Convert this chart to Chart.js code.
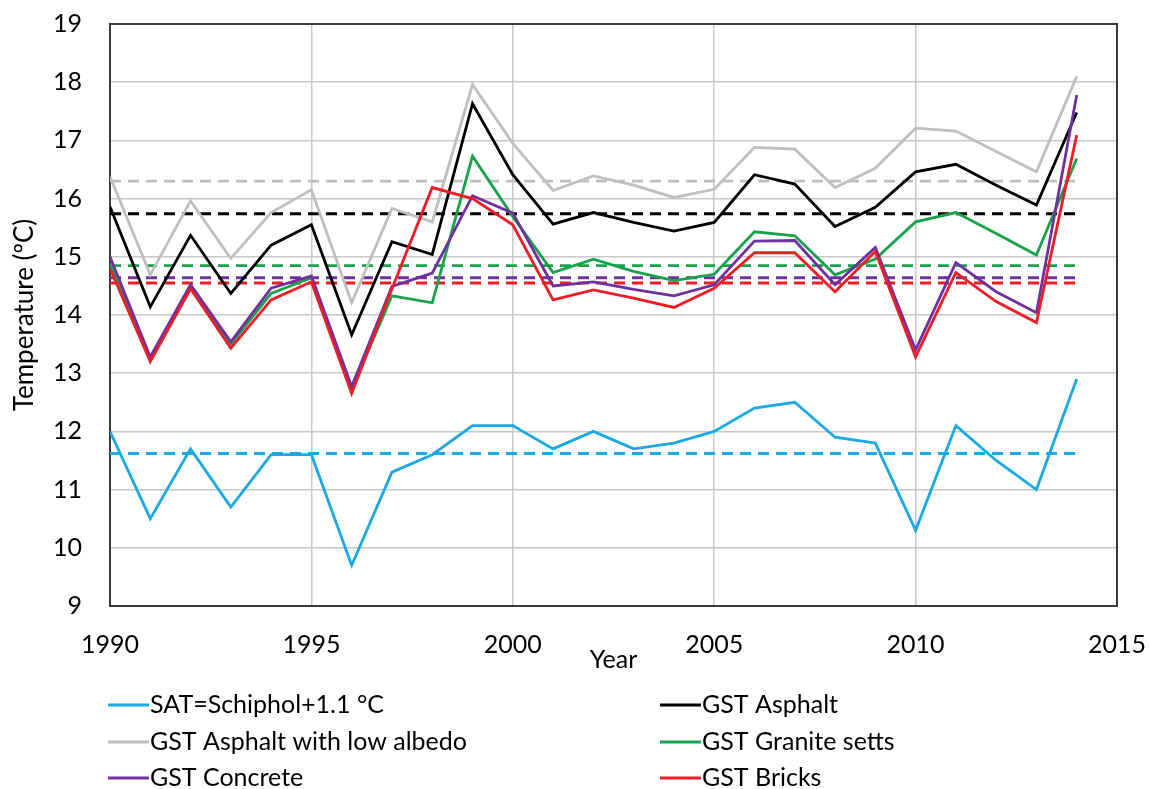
<!DOCTYPE html>
<html>
<head>
<meta charset="utf-8">
<script src="https://cdn.jsdelivr.net/npm/chart.js@4/dist/chart.umd.min.js"></script>
<style>
  html, body { margin: 0; padding: 0; background: #fff; }
  #wrap { width: 1149px; height: 789px; position: relative; }
</style>
</head>
<body>
<div id="wrap"><canvas id="myChart" width="1149" height="789"></canvas></div>
<script>
// data
const years = [1990, 1991, 1992, 1993, 1994, 1995, 1996, 1997, 1998, 1999, 2000, 2001, 2002,
  2003, 2004, 2005, 2006, 2007, 2008, 2009, 2010, 2011, 2012, 2013, 2014]
const sat = [12.0, 10.5, 11.7, 10.7, 11.6, 11.6, 9.7, 11.3, 11.6, 12.1, 12.1, 11.7, 12.0,
  11.7, 11.8, 12.0, 12.4, 12.5, 11.9, 11.8, 10.3, 12.1, 11.5, 11.0, 12.9]
const asphalt = [15.86, 14.14, 15.37, 14.37, 15.20, 15.55, 13.66, 15.26, 15.04, 17.63, 16.41, 15.56, 15.76,
  15.59, 15.44, 15.59, 16.41, 16.25, 15.52, 15.85, 16.46, 16.59, 16.23, 15.89, 17.48]
const lowAlbedo = [16.38, 14.69, 15.96, 14.97, 15.76, 16.15, 14.21, 15.83, 15.60, 17.96, 16.95, 16.14, 16.39,
  16.23, 16.02, 16.16, 16.88, 16.85, 16.19, 16.52, 17.21, 17.16, 16.81, 16.46, 18.10]
const granite = [14.88, 13.25, 14.50, 13.50, 14.37, 14.64, 12.72, 14.33, 14.21, 16.73, 15.69, 14.73, 14.96,
  14.75, 14.59, 14.70, 15.43, 15.36, 14.69, 14.96, 15.60, 15.76, 15.40, 15.03, 16.69]
const concrete = [15.00, 13.28, 14.52, 13.54, 14.46, 14.67, 12.77, 14.49, 14.72, 16.05, 15.75, 14.50, 14.57,
  14.44, 14.33, 14.52, 15.27, 15.28, 14.52, 15.16, 13.40, 14.90, 14.40, 14.04, 17.78]
const bricks = [14.80, 13.20, 14.45, 13.43, 14.26, 14.57, 12.65, 14.45, 16.19, 16.00, 15.55, 14.26, 14.43,
  14.29, 14.13, 14.46, 15.07, 15.07, 14.40, 15.09, 13.28, 14.73, 14.23, 13.87, 17.09]

// averages (dashed lines), same order as the series
const seriesNames = ['SAT=Schiphol+1.1 °C', 'GST Asphalt', 'GST Asphalt with low albedo',
  'GST Granite setts', 'GST Concrete', 'GST Bricks']
const means = [11.62, 15.74, 16.30, 14.85, 14.64, 14.55]
const colors = ['#1ba9e6', '#000000', '#bfbfbf', '#18a24b', '#7030a0', '#ee1c25']
const drawOrder = [5, 3, 4, 2, 1, 0]

const yTicks = [9, 10, 11, 12, 13, 14, 15, 16, 17, 18, 19]
const xTicks = [1990, 1995, 2000, 2005, 2010, 2015]

const FONT = "Lato, 'Liberation Sans', sans-serif"

const toPoints = vals => years.map((yr, i) => ({ x: yr, y: vals[i] }))
const allSeries = [sat, asphalt, lowAlbedo, granite, concrete, bricks]

let datasets = []
allSeries.forEach((vals, i) => {
  datasets.push({
    label: seriesNames[i],
    data: toPoints(vals),
    borderColor: colors[i],
    borderWidth: 2.8,
    pointRadius: 0,
    order: drawOrder[i],
    legend: true
  })
})
allSeries.forEach((vals, i) => {
  datasets.push({
    label: seriesNames[i] + ' mean',
    data: toPoints(years.map(() => means[i])),
    borderColor: colors[i],
    borderWidth: 2.8,
    borderDash: [11, 7],
    pointRadius: 0,
    order: 10 + i,
    legend: false
  })
})

// dark frame round the plot area
const frame = {
  id: 'frame',
  beforeDatasetsDraw(chart) {
    const a = chart.chartArea
    const ctx = chart.ctx
    ctx.save()
    ctx.strokeStyle = '#3a3a3a'
    ctx.lineWidth = 2
    ctx.strokeRect(a.left, a.top, a.right - a.left, a.bottom - a.top)
    ctx.restore()
  }
}

// two-column legend under the plot
const bottomLegend = {
  id: 'bottomLegend',
  afterDraw(chart) {
    const ctx = chart.ctx
    const items = chart.data.datasets.filter(d => d.legend)
    const colX = [108, 660]
    const rowY = [705, 742, 778]
    ctx.save()
    ctx.font = '25px ' + FONT
    ctx.textBaseline = 'middle'
    ctx.fillStyle = '#000'
    items.forEach((d, i) => {
      const x = colX[i % 2]
      const y = rowY[Math.floor(i / 2)]
      ctx.strokeStyle = d.borderColor
      ctx.lineWidth = 3
      ctx.beginPath()
      ctx.moveTo(x, y)
      ctx.lineTo(x + 41, y)
      ctx.stroke()
      ctx.fillText(d.label, x + 42, y)
    })
    ctx.restore()
  }
}

const ctx = document.getElementById('myChart').getContext('2d')
const chart = new Chart(ctx, {
  type: 'line',
  data: { datasets: datasets },
  options: {
    responsive: false,
    animation: false,
    layout: { padding: { left: 0, right: 32, top: 24, bottom: 114 } },
    plugins: { legend: { display: false }, tooltip: { enabled: false } },
    elements: { line: { tension: 0 } },
    scales: {
      x: {
        type: 'linear',
        min: 1990,
        max: 2015,
        afterBuildTicks: s => { s.ticks = xTicks.map(v => ({ value: v })) },
        afterFit: s => { s.height = 69; s.paddingLeft = 0; s.paddingRight = 0 },
        ticks: { callback: v => String(v), color: '#000', padding: 24, maxRotation: 0,
          font: { family: FONT, size: 25 } },
        grid: { color: '#c8c8c8', lineWidth: 1.5, drawTicks: false },
        border: { color: '#3a3a3a', width: 2 },
        title: { display: true, text: 'Year', color: '#000', padding: { top: 0, bottom: 0 },
          font: { family: FONT, size: 25 } }
      },
      y: {
        min: 9,
        max: 19,
        afterBuildTicks: s => { s.ticks = yTicks.map(v => ({ value: v })) },
        afterFit: s => { s.width = 110; s.paddingTop = 0; s.paddingBottom = 0 },
        ticks: { color: '#000', padding: 28, font: { family: FONT, size: 25 } },
        grid: { color: '#c8c8c8', lineWidth: 1.5, drawTicks: false },
        border: { color: '#3a3a3a', width: 2 },
        title: { display: true, text: 'Temperature (ºC)', color: '#000', padding: { top: 9, bottom: 0 },
          font: { family: FONT, size: 26 } }
      }
    }
  },
  plugins: [frame, bottomLegend]
})
</script>
</body>
</html>
